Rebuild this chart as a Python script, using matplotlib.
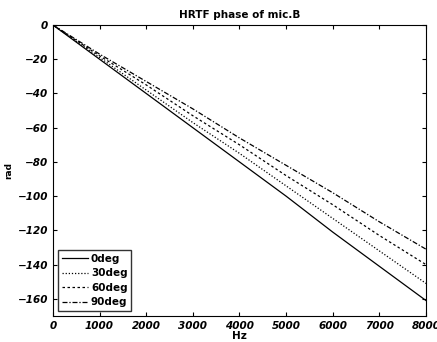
import numpy as np
import matplotlib
matplotlib.use("Agg")
import matplotlib.pyplot as plt

# frecuencias y fase (cada 1000 Hz)
freq = [0, 1000, 2000, 3000, 4000, 5000, 6000, 7000, 8000]
phase_0 = [0, -20, -40, -60, -80, -100, -121, -141, -161]
phase_30 = [0, -19, -38, -57, -75, -94, -113, -132, -151]
phase_60 = [0, -18, -35, -53, -70, -88, -105, -123, -140]
phase_90 = [0, -17, -33, -49, -66, -82, -98, -115, -131]
labels = ["0deg", "30deg", "60deg", "90deg"]

fig = plt.figure(figsize=(4.37, 3.42), dpi=100)
ax = fig.add_axes([0.121, 0.076, 0.854, 0.851])

ax.plot(freq, phase_0, color="black", lw=0.9, ls="-", label=labels[0])
ax.plot(freq, phase_30, color="black", lw=0.9, ls=(0, (1, 1.5)), label=labels[1])
ax.plot(freq, phase_60, color="black", lw=0.9, ls=(0, (2, 2)), label=labels[2])
ax.plot(freq, phase_90, color="black", lw=0.9, ls=(0, (4, 1.5, 1, 1.5)), label=labels[3])

ax.set_xlim(0, 8000)
ax.set_ylim(-170, 0)
ax.set_xticks(np.arange(0, 8001, 1000))
ax.set_yticks(np.arange(-160, 1, 20))
ax.tick_params(direction="in", top=True, right=True, length=3, labelsize=7.5)
for t in ax.get_xticklabels() + ax.get_yticklabels():
    t.set_fontweight("bold")
    t.set_fontstyle("italic")

ax.set_title("HRTF phase of mic.B", fontsize=7.5, fontweight="bold", pad=5)
ax.set_xlabel("Hz", fontsize=7.5, fontweight="bold", labelpad=0)
ax.set_ylabel("rad", fontsize=6.5, fontweight="bold", labelpad=3)

leg = ax.legend(loc="lower left", prop={"size": 7.5, "weight": "bold"},
                fancybox=False, edgecolor="black", handlelength=2.5,
                borderpad=0.35, labelspacing=0.42, handletextpad=0.3,
                borderaxespad=0.5)
leg.get_frame().set_linewidth(1.0)

fig.savefig("out.png", dpi=100)
